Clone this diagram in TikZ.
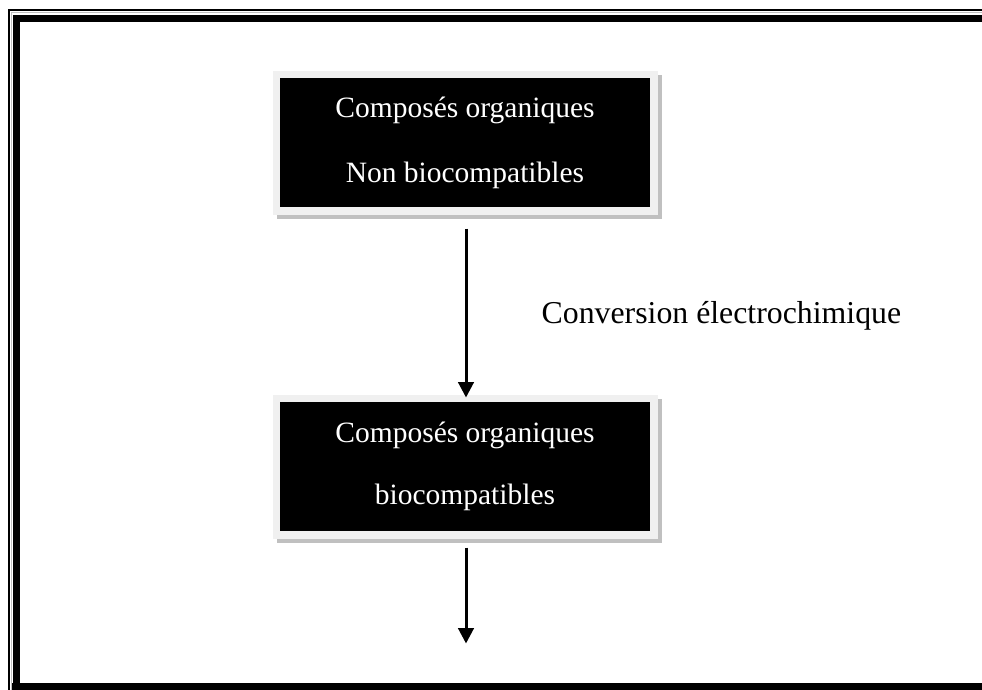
\documentclass[tikz,border=0pt]{standalone}
\usepackage{fontspec}
\setmainfont{Liberation Serif}
\usetikzlibrary{arrows.meta,calc,backgrounds}
\definecolor{framegray}{HTML}{F0F0F0}
\definecolor{shadowgray}{HTML}{C0C0C0}
\tikzset{
  stagebox/.style={rectangle, fill=black, draw=framegray, line width=7.5pt,
    minimum width=377.5pt, minimum height=136.5pt, inner sep=0pt,
    text=white, align=center},
  flowarrow/.style={line width=3pt, -{Triangle[width=15.5pt,length=15.5pt]}},
  boxshadow/.style={fill=shadowgray}
}
\begin{document}
\begin{tikzpicture}[x=1pt,y=-1pt]
\useasboundingbox (0,0) rectangle (982,689);
\clip (0,0) rectangle (982,689);

% page border: thin outer rule, faint grey rule, thick inner rule
\draw[line width=2pt] (9,720) -- (9,10.3) -- (1000,10.3);
\draw[line width=1.2pt, black!25] (11.2,720) -- (11.2,12.4) -- (1000,12.4);
\draw[line width=7pt] (16.5,1000) -- (16.5,18.5) -- (1000,18.5);
\draw[line width=7pt] (12,686.5) -- (1000,686.5);

% the two stages
\node[stagebox, font=\fontsize{29.5}{65}\selectfont] (b1) at (465,142.5)
  {Composés organiques\\Non biocompatibles};
\node[stagebox, font=\fontsize{29.5}{62}\selectfont] (b2) at (465,466.5)
  {Composés organiques\\biocompatibles};

% drop shadows behind the boxes
\begin{scope}[on background layer]
  \fill[boxshadow] ($(b1.south west)+(4,4)$) rectangle ($(b1.north east)+(4,4)$);
  \fill[boxshadow] ($(b2.south west)+(4,4)$) rectangle ($(b2.north east)+(4,4)$);
\end{scope}

% connectors
\coordinate (out) at (466,643.5);
\draw[flowarrow] ([xshift=1pt,yshift=-14pt]b1.south) -- ([xshift=1pt,yshift=-3pt]b2.north);
\draw[flowarrow] ([xshift=1pt,yshift=-9pt]b2.south) -- (out);

\node[anchor=base west, inner sep=0pt, font=\fontsize{31.8}{36}\selectfont] (conv)
  at (541.5,323) {Conversion électrochimique};
\end{tikzpicture}
\end{document}
